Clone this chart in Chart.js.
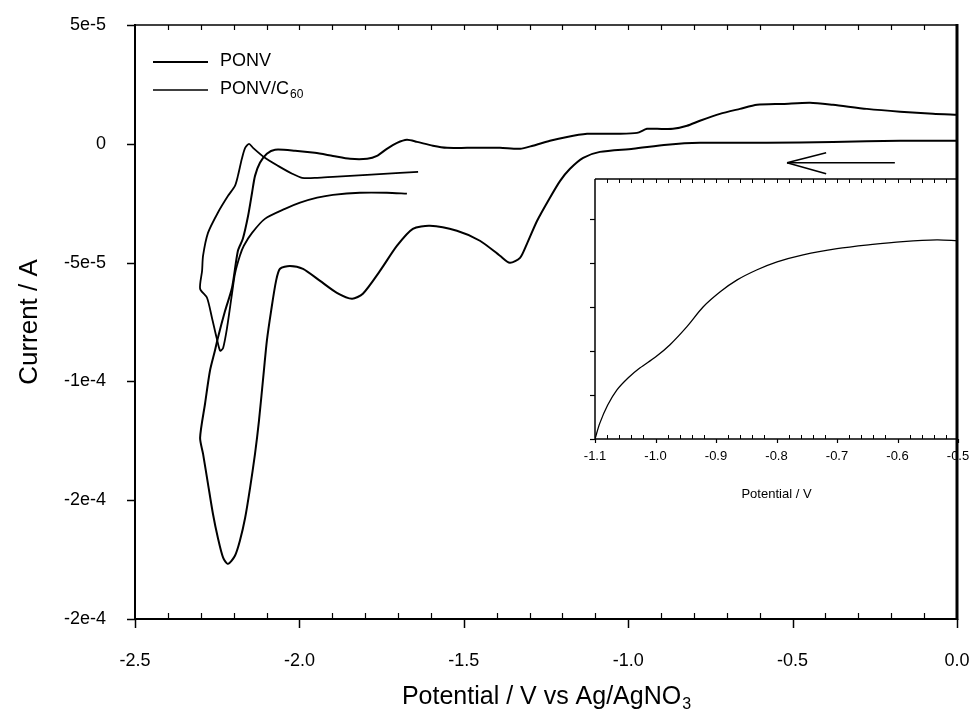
<!DOCTYPE html>
<html>
<head>
<meta charset="utf-8">
<script src="https://cdn.jsdelivr.net/npm/chart.js@4/dist/chart.umd.min.js"></script>
<style>
  html, body { margin: 0; padding: 0; background: #fff; }
  #wrap { position: relative; width: 973px; height: 715px; }
  #main { position: absolute; left: 0; top: 0; }
  #inset { position: absolute; left: 540px; top: 170px; }
</style>
</head>
<body>
<div id="wrap">
  <canvas id="main" width="973" height="715"></canvas>
  <canvas id="inset" width="433" height="345"></canvas>
</div>
<script>
// Cyclic voltammograms, currents stored in units of 1e-5 A
const CURRENT_UNIT = 1e-5;

// PONV: scan from 0 V towards -2.3 V and back
const ponvPotential = [
  0.000, -0.173, -0.377, -0.578, -0.782, -0.882, -0.985, -1.086, -1.137, -1.177,
  -1.207, -1.238, -1.277, -1.308, -1.329, -1.360, -1.390, -1.451, -1.521, -1.603,
  -1.655, -1.703, -1.755, -1.807, -1.840, -1.886, -1.937, -1.989, -2.029, -2.059,
  -2.071, -2.086, -2.099, -2.108, -2.123, -2.135, -2.150, -2.165, -2.181, -2.196,
  -2.217, -2.232, -2.248, -2.263, -2.278, -2.293, -2.302,
  -2.287, -2.272, -2.257, -2.248, -2.226, -2.205, -2.187, -2.172, -2.156, -2.144,
  -2.135, -2.120, -2.099, -2.074, -2.013, -1.953, -1.898, -1.846, -1.794, -1.764,
  -1.734, -1.703, -1.673, -1.642, -1.594, -1.551, -1.490, -1.390, -1.329, -1.290,
  -1.238, -1.186, -1.125, -1.086, -1.034, -0.973, -0.943, -0.912, -0.864, -0.821,
  -0.782, -0.721, -0.660, -0.608, -0.529, -0.447, -0.377, -0.274, -0.173, -0.073, 0.000
];
const ponvCurrent = [
  0.13, 0.13, 0.08, 0.04, 0.04, -0.04, -0.21, -0.34, -0.59, -1.05,
  -1.56, -2.27, -3.24, -4.21, -4.80, -5.01, -4.71, -4.08, -3.66, -3.45,
  -3.58, -4.29, -5.35, -6.31, -6.52, -6.27, -5.77, -5.26, -5.14, -5.26,
  -5.77, -7.03, -8.29, -9.55, -11.66, -13.05, -14.48, -15.74, -16.71, -17.34,
  -17.68, -17.42, -16.58, -15.57, -14.31, -13.05, -12.37,
  -10.94, -9.55, -8.71, -8.17, -7.03, -6.06, -4.50, -4.00, -3.03, -2.06,
  -1.35, -0.80, -0.42, -0.25, -0.29, -0.38, -0.51, -0.63, -0.63, -0.51,
  -0.21, 0.04, 0.17, 0.08, -0.08, -0.17, -0.17, -0.17, -0.21, -0.08,
  0.13, 0.29, 0.42, 0.42, 0.42, 0.46, 0.63, 0.63, 0.63, 0.76,
  0.97, 1.26, 1.47, 1.64, 1.68, 1.73, 1.64, 1.47, 1.35, 1.26, 1.22
];

// PONV/C60: scan from -1.67 V towards -2.3 V and back
const ponvC60Potential = [
  -1.673, -1.734, -1.816, -1.898, -1.946, -1.998, -2.044, -2.105, -2.144, -2.169,
  -2.181, -2.196, -2.205, -2.220, -2.232, -2.241, -2.251, -2.266, -2.281, -2.302,
  -2.296, -2.293, -2.278, -2.248, -2.217, -2.196, -2.187, -2.175, -2.165, -2.153,
  -2.141, -2.105, -2.065, -2.022, -1.992, -1.946, -1.898, -1.794, -1.694, -1.639
];
const ponvC60Current = [
  -2.10, -2.06, -2.06, -2.15, -2.27, -2.48, -2.74, -3.16, -3.75, -4.29,
  -4.71, -5.47, -6.31, -7.74, -8.59, -8.71, -8.21, -7.32, -6.48, -6.10,
  -5.35, -4.71, -3.75, -2.90, -2.19, -1.77, -1.35, -0.63, -0.17, 0.00,
  -0.17, -0.59, -0.93, -1.26, -1.43, -1.43, -1.39, -1.31, -1.22, -1.18
];

// Inset: expanded view of the PONV return branch (arbitrary current scale)
const insetPotential = [
  -1.100, -1.092, -1.079, -1.064, -1.045, -1.026, -1.000, -0.976, -0.948, -0.921,
  -0.893, -0.865, -0.832, -0.799, -0.756, -0.700, -0.645, -0.591, -0.535, -0.500
];
const insetCurrent = [
  0.00, 0.36, 0.77, 1.11, 1.39, 1.61, 1.86, 2.14, 2.55, 3.00,
  3.34, 3.61, 3.84, 4.02, 4.18, 4.32, 4.41, 4.48, 4.52, 4.50
];

// Axis ticks
const xTickValues = [-2.5, -2.0, -1.5, -1.0, -0.5, 0.0];
const xTickLabels = ['-2.5', '-2.0', '-1.5', '-1.0', '-0.5', '0.0'];
const yTickValues = [5e-5, 0, -5e-5, -1e-4, -1.5e-4, -2e-4];
const yTickLabels = ['5e-5', '0', '-5e-5', '-1e-4', '-2e-4', '-2e-4'];
const insetXTickValues = [-1.1, -1.0, -0.9, -0.8, -0.7, -0.6, -0.5];
const insetXTickLabels = ['-1.1', '-1.0', '-0.9', '-0.8', '-0.7', '-0.6', '-0.5'];
const insetYTickValues = [0, 1, 2, 3, 4, 5];

// Legend entries (name, subscript)
const seriesNames = [['PONV', ''], ['PONV/C', '60']];

// Scan-direction arrow in data coordinates (V, units of 1e-5 A)
const arrowTail = [-0.189, -0.80];
const arrowTip = [-0.517, -0.80];
const arrowBarbs = [[-0.398, -0.38], [-0.398, -1.26]];

const FONT = "'Liberation Sans', Arial, Helvetica, sans-serif";

function toPoints(xs, ys, k) {
  return xs.map((x, i) => ({ x: x, y: ys[i] * k }));
}

// keep the plot frame exactly where the layout puts it
function noScalePadding(s) {
  s.paddingLeft = 0; s.paddingRight = 0; s.paddingTop = 0; s.paddingBottom = 0;
}

function seg(ctx, x1, y1, x2, y2, w) {
  ctx.lineWidth = w;
  ctx.beginPath();
  ctx.moveTo(x1, y1);
  ctx.lineTo(x2, y2);
  ctx.stroke();
}

function textWithSub(ctx, x, y, main, sub, size, subSize, align) {
  ctx.font = size + 'px ' + FONT;
  const wMain = ctx.measureText(main).width;
  ctx.font = subSize + 'px ' + FONT;
  const wSub = sub ? ctx.measureText(sub).width : 0;
  let x0 = x;
  if (align === 'center') x0 = x - (wMain + wSub) / 2;
  ctx.textAlign = 'left';
  ctx.textBaseline = 'middle';
  ctx.font = size + 'px ' + FONT;
  ctx.fillText(main, x0, y);
  if (sub) {
    ctx.font = subSize + 'px ' + FONT;
    ctx.fillText(sub, x0 + wMain + 1, y + size * 0.32);
  }
}

const mainDecor = {
  id: 'mainDecor',
  afterDatasetsDraw(chart) {
    const { ctx, chartArea: a, scales: { x, y } } = chart;
    ctx.save();
    ctx.strokeStyle = '#000';
    ctx.fillStyle = '#000';
    ctx.lineCap = 'butt';

    // frame
    seg(ctx, a.left, a.top - 1, a.left, a.bottom + 1, 2);
    seg(ctx, a.left, a.bottom, a.right, a.bottom, 2);
    seg(ctx, a.left, a.top, a.right, a.top, 1.5);
    seg(ctx, a.right, a.top - 1, a.right, a.bottom + 1, 3);

    // x ticks: majors outward, minors inward; top ticks inward
    for (let i = 0; i <= 25; i++) {
      const v = -2.5 + i * 0.1;
      const px = Math.round(x.getPixelForValue(v)) + 0.5;
      if (i % 5 === 0) seg(ctx, px, a.bottom, px, a.bottom + 9, 1.5);
      else seg(ctx, px, a.bottom, px, a.bottom - 6, 1.2);
      if (i > 0 && i < 25) seg(ctx, px, a.top, px, a.top + 5, 1.2);
    }
    // y ticks outward
    yTickValues.forEach(v => {
      const py = Math.round(y.getPixelForValue(v)) + 0.5;
      seg(ctx, a.left - 8, py, a.left, py, 1.5);
    });

    // scan direction arrow
    const tx = x.getPixelForValue(arrowTip[0]), ty = y.getPixelForValue(arrowTip[1] * CURRENT_UNIT);
    seg(ctx, x.getPixelForValue(arrowTail[0]), y.getPixelForValue(arrowTail[1] * CURRENT_UNIT), tx, ty, 1.6);
    arrowBarbs.forEach(b => {
      seg(ctx, tx, ty, x.getPixelForValue(b[0]), y.getPixelForValue(b[1] * CURRENT_UNIT), 1.6);
    });

    // legend
    const lx0 = a.left + 18, lx1 = a.left + 73, ly = a.top + 37;
    const widths = [2, 1.5];
    seriesNames.forEach((n, i) => {
      const yy = ly + i * 28;
      seg(ctx, lx0, yy, lx1, yy, widths[i]);
      textWithSub(ctx, a.left + 85, yy - 1, n[0], n[1], 18, 12, 'left');
    });

    // axis titles
    textWithSub(ctx, (a.left + a.right) / 2, 697, 'Potential / V vs Ag/AgNO', '3', 25, 16, 'center');
    ctx.save();
    ctx.translate(30, (a.top + a.bottom) / 2);
    ctx.rotate(-Math.PI / 2);
    ctx.font = '26px ' + FONT;
    ctx.textAlign = 'center';
    ctx.textBaseline = 'middle';
    ctx.fillText('Current / A', 0, 0);
    ctx.restore();

    ctx.restore();
  }
};

new Chart(document.getElementById('main'), {
  type: 'scatter',
  data: {
    datasets: [
      {
        label: 'PONV',
        data: toPoints(ponvPotential, ponvCurrent, CURRENT_UNIT),
        showLine: true, borderColor: '#000', borderWidth: 2, pointRadius: 0, tension: 0.25, fill: false
      },
      {
        label: 'PONV/C60',
        data: toPoints(ponvC60Potential, ponvC60Current, CURRENT_UNIT),
        showLine: true, borderColor: '#000', borderWidth: 1.8, pointRadius: 0, tension: 0.25, fill: false
      }
    ]
  },
  options: {
    responsive: false,
    animation: false,
    devicePixelRatio: 1,
    layout: { autoPadding: false, padding: { left: 0, right: 16, top: 25, bottom: 0 } },
    plugins: { legend: { display: false }, tooltip: { enabled: false } },
    scales: {
      x: {
        type: 'linear', min: -2.5, max: 0,
        grid: { display: false, drawTicks: false },
        border: { display: false },
        afterBuildTicks: s => { s.ticks = xTickValues.map(v => ({ value: v })); },
        afterFit: s => { s.height = 96; noScalePadding(s); },
        ticks: {
          padding: 31, color: '#000', maxRotation: 0, autoSkip: false,
          font: { family: FONT, size: 18 },
          callback: (v, i) => xTickLabels[i]
        }
      },
      y: {
        type: 'linear', min: -2e-4, max: 5e-5,
        grid: { display: false, drawTicks: false },
        border: { display: false },
        afterBuildTicks: s => { s.ticks = yTickValues.map(v => ({ value: v })); },
        afterFit: s => { s.width = 135; noScalePadding(s); },
        ticks: {
          padding: 29, color: '#000', autoSkip: false,
          font: { family: FONT, size: 18 },
          callback: (v, i) => yTickLabels[i]
        }
      }
    }
  },
  plugins: [mainDecor]
});

const insetDecor = {
  id: 'insetDecor',
  beforeDatasetsDraw(chart) {
    const { ctx, chartArea: a } = chart;
    ctx.save();
    ctx.fillStyle = '#fff';
    // leave the main plot's right border visible along the inset's right side
    ctx.fillRect(a.left, a.top, a.right - a.left - 3, a.bottom - a.top);
    ctx.restore();
  },
  afterDatasetsDraw(chart) {
    const { ctx, chartArea: a, scales: { x, y } } = chart;
    ctx.save();
    ctx.strokeStyle = '#000';
    ctx.fillStyle = '#000';
    seg(ctx, a.left, a.top, a.left, a.bottom, 1.5);
    seg(ctx, a.left, a.bottom, a.right, a.bottom, 1.5);
    seg(ctx, a.left, a.top, a.right, a.top, 1.5);
    for (let i = 0; i <= 30; i++) {
      const v = -1.1 + i * 0.02;
      const px = Math.round(x.getPixelForValue(v)) + 0.5;
      if (i % 5 === 0) seg(ctx, px, a.bottom, px, a.bottom + 4, 1.2);
      else seg(ctx, px, a.bottom, px, a.bottom - 4, 1);
      if (i > 0 && i < 30) seg(ctx, px, a.top, px, a.top + 4, 1);
    }
    insetYTickValues.forEach(v => {
      const py = Math.round(y.getPixelForValue(v)) + 0.5;
      seg(ctx, a.left - 5, py, a.left, py, 1.2);
    });
    ctx.font = '13px ' + FONT;
    ctx.textAlign = 'center';
    ctx.textBaseline = 'middle';
    ctx.fillText('Potential / V', (a.left + a.right) / 2, a.bottom + 55);
    ctx.restore();
  }
};

new Chart(document.getElementById('inset'), {
  type: 'scatter',
  data: {
    datasets: [{
      label: 'inset',
      data: toPoints(insetPotential, insetCurrent, 1),
      showLine: true, borderColor: '#000', borderWidth: 1.3, pointRadius: 0, tension: 0.3, fill: false
    }]
  },
  options: {
    responsive: false,
    animation: false,
    devicePixelRatio: 1,
    layout: { autoPadding: false, padding: { left: 0, right: 15, top: 9, bottom: 0 } },
    plugins: { legend: { display: false }, tooltip: { enabled: false } },
    scales: {
      x: {
        type: 'linear', min: -1.1, max: -0.5,
        grid: { display: false, drawTicks: false },
        border: { display: false },
        afterBuildTicks: s => { s.ticks = insetXTickValues.map(v => ({ value: v })); },
        afterFit: s => { s.height = 76; noScalePadding(s); },
        ticks: {
          padding: 10, color: '#000', maxRotation: 0, autoSkip: false,
          font: { family: FONT, size: 13 },
          callback: (v, i) => insetXTickLabels[i]
        }
      },
      y: {
        type: 'linear', min: 0, max: 5.9,
        grid: { display: false, drawTicks: false },
        border: { display: false },
        afterBuildTicks: s => { s.ticks = insetYTickValues.map(v => ({ value: v })); },
        afterFit: s => { s.width = 55; noScalePadding(s); },
        ticks: { display: false }
      }
    }
  },
  plugins: [insetDecor]
});
</script>
</body>
</html>
